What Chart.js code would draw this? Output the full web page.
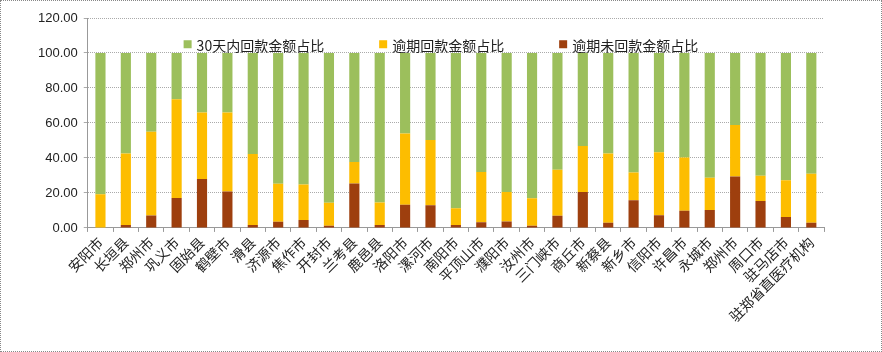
<!DOCTYPE html>
<html><head><meta charset="utf-8">
<script src="https://cdn.jsdelivr.net/npm/chart.js@4.4.0/dist/chart.umd.min.js"></script>
<style>
html,body{margin:0;padding:0;background:#fff;}
#wrap{position:relative;width:880px;height:350px;border:1px dotted #888;}
canvas{display:block;}
</style></head><body>
<div id="wrap"><canvas id="c" width="880" height="350"></canvas></div>
<script>
const categories = ['安阳市','长垣县','郑州市','巩义市','固始县','鹤壁市','滑县','济源市','焦作市','开封市','兰考县','鹿邑县','洛阳市','漯河市','南阳市','平顶山市','濮阳市','汝州市','三门峡市','商丘市','新蔡县','新乡市','信阳市','许昌市','永城市','郑州市','周口市','驻马店市','驻郑省直医疗机构'];
const overdueUnpaid = [0.3,1.7,7.1,17.1,27.9,20.8,1.7,3.5,4.6,1.2,25.4,1.7,13.3,12.9,1.7,3.3,3.7,1.2,6.9,20.6,2.9,15.8,7.3,9.8,10.2,29.4,15.4,6.2,2.9];
const overduePaid = [18.9,40.8,47.9,56.4,38.1,45.2,40.6,21.7,20.2,13.2,12.3,12.9,40.7,37.3,9.6,28.6,16.9,15.7,26.4,26.3,39.6,15.9,36.0,30.4,18.5,29.4,14.4,21.1,28.1];
const within30 = [80.8,57.5,45.0,26.5,34.0,34.0,57.7,74.8,75.2,85.6,62.3,85.4,46.0,49.8,88.7,68.1,79.4,83.1,66.7,53.1,57.5,68.3,56.7,59.8,71.3,41.2,70.2,72.7,69.0];
const yTicks = [0,20,40,60,80,100,120];
const seriesNames = ['逾期未回款金额占比','逾期回款金额占比','30天内回款金额占比'];

const legendFont = '14px "Noto Sans CJK SC", sans-serif';
const inAreaLegend = {
  id: 'inAreaLegend',
  afterDraw(chart) {
    const ctx = chart.ctx, area = chart.chartArea;
    const sets = chart.data.datasets.slice().reverse();
    ctx.save();
    ctx.font = legendFont;
    const box = 8, gapBox = 5, gapItem = 55;
    const widths = sets.map(d => box + gapBox + ctx.measureText(d.label).width);
    const total = widths.reduce((a, b) => a + b, 0) + gapItem * (sets.length - 1);
    const yMid = chart.scales.y.getPixelForValue(105);
    let x = (area.left + area.right) / 2 - 15 - total / 2;
    sets.forEach((d, i) => {
      ctx.fillStyle = d.backgroundColor;
      ctx.fillRect(x, yMid - box / 2, box, box);
      ctx.fillStyle = '#222';
      ctx.textBaseline = 'middle';
      ctx.textAlign = 'left';
      ctx.fillText(d.label, x + box + gapBox, yMid + 1);
      x += widths[i] + gapItem;
    });
    ctx.restore();
  }
};

new Chart(document.getElementById('c'), {
  type: 'bar',
  data: {
    labels: categories,
    datasets: [
      {label: seriesNames[0], data: overdueUnpaid, backgroundColor: '#9e3f0e'},
      {label: seriesNames[1], data: overduePaid, backgroundColor: '#fdbd00'},
      {label: seriesNames[2], data: within30, backgroundColor: '#9cbf5c'}
    ]
  },
  options: {
    responsive: false,
    animation: false,
    layout: {padding: {left: 31, right: 57, top: 17, bottom: 24}},
    datasets: {bar: {barPercentage: 0.4, categoryPercentage: 1.0}},
    plugins: {
      legend: {display: false},
      tooltip: {enabled: false}
    },
    scales: {
      x: {
        stacked: true,
        grid: {display: true, drawOnChartArea: false, drawTicks: true, tickLength: 4, color: '#999', offset: true},
        border: {color: '#999', dash: [1,1]},
        ticks: {
          maxRotation: 45, minRotation: 45, autoSkip: false, padding: 2,
          color: '#222',
          font: {family: '"Noto Sans CJK SC", sans-serif', size: 14}
        }
      },
      y: {
        stacked: true,
        min: 0, max: 120,
        afterBuildTicks: (ax) => { ax.ticks = yTicks.map(v => ({value: v})); },
        grid: {color: '#aaa', tickLength: 4, drawTicks: true},
        border: {color: '#999', dash: [1,1]},
        ticks: {
          color: '#222', padding: 6,
          font: {family: 'Arial, "Liberation Sans", sans-serif', size: 13},
          callback: (v) => Number(v).toFixed(2)
        }
      }
    }
  },
  plugins: [inAreaLegend]
});
</script>
</body></html>
